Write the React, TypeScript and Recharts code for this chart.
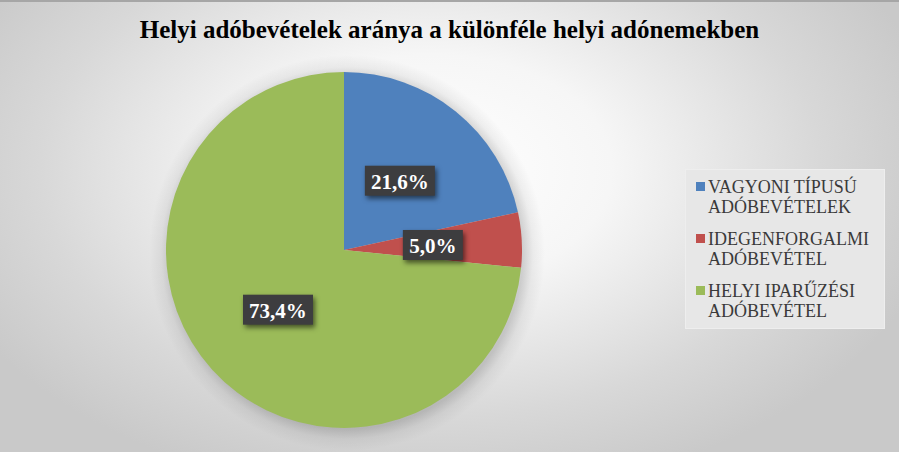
import React from 'react';
import { PieChart, Pie, Cell, Legend } from 'recharts';

// Share of local tax revenues (percent)
const categories = [
  'VAGYONI TÍPUSÚ ADÓBEVÉTELEK',
  'IDEGENFORGALMI ADÓBEVÉTEL',
  'HELYI IPARŰZÉSI ADÓBEVÉTEL',
];
const shares = [21.6, 5.0, 73.4];
const colors = ['#4f81bd', '#c0504d', '#9bbb59'];

const pieData = categories.map((name, i) => ({ name, value: shares[i] }));

const SERIF = "'Liberation Serif', 'Times New Roman', serif";
const RADIAN = Math.PI / 180;

const renderLabel = ({ cx, cy, midAngle, outerRadius, value }: any) => {
  const r = outerRadius * 0.5;
  const x = cx + r * Math.cos(-midAngle * RADIAN);
  const y = cy + r * Math.sin(-midAngle * RADIAN);
  const text = Number(value).toFixed(1).replace('.', ',') + '%';
  const w = text.length * 10 + 20;
  const h = 30;
  return (
    <g>
      <rect
        x={x - w / 2}
        y={y - h / 2}
        width={w}
        height={h}
        fill="#3d3d3f"
        style={{ filter: 'drop-shadow(2px 3px 2.5px rgba(0,0,0,0.55))' }}
      />
      <text
        x={x}
        y={y + 1}
        textAnchor="middle"
        dominantBaseline="central"
        fill="#ffffff"
        style={{ fontFamily: SERIF, fontWeight: 'bold', fontSize: 21 }}
      >
        {text}
      </text>
    </g>
  );
};

const LegendBox = ({ payload }: any) => {
  const items = [...(payload || [])].sort(
    (a: any, b: any) => categories.indexOf(a.value) - categories.indexOf(b.value)
  );
  return (
    <div
      style={{
        width: 200,
        height: 160,
        boxSizing: 'border-box',
        background: '#e7e7e7',
        border: '1px solid #eeeeee',
        padding: '7px 0 0 10px',
        fontFamily: SERIF,
        fontSize: 18,
        lineHeight: '20px',
        color: '#3a3a3a',
      }}
    >
      {items.map((entry: any, i: number) => (
        <div key={i} style={{ display: 'flex', alignItems: 'flex-start', marginBottom: 12 }}>
          <span
            style={{
              display: 'inline-block',
              width: 9,
              height: 9,
              marginTop: 5,
              marginRight: 3,
              flex: '0 0 auto',
              background: entry.color,
            }}
          />
          <span style={{ width: 180 }}>{entry.value}</span>
        </div>
      ))}
    </div>
  );
};

export default function App() {
  return (
    <div
      style={{
        position: 'absolute',
        left: 0,
        top: 0,
        width: 899,
        height: 452,
        overflow: 'hidden',
        boxShadow: 'inset 0 2px 0 #a6a6a6',
        background:
          'radial-gradient(circle at 347px 253px, rgba(0,0,0,0.16) 176px, rgba(0,0,0,0.05) 186px, rgba(0,0,0,0) 198px),' +
          'radial-gradient(ellipse 520px 330px at 430px 170px, #ffffff 0%, #f6f6f6 35%, #d8d8d8 75%, #c9c9c9 100%)',
      }}
    >
      <div
        style={{
          position: 'absolute',
          left: 0,
          top: 16,
          width: 899,
          textAlign: 'center',
          fontFamily: SERIF,
          fontWeight: 'bold',
          fontSize: 25,
          color: '#000000',
        }}
      >
        Helyi adóbevételek aránya a különféle helyi adónemekben
      </div>
      <PieChart
        width={899}
        height={452}
        margin={{ top: 0, right: 0, bottom: 0, left: 0 }}
        style={{ position: 'absolute', left: 0, top: 0 }}
      >
        <Pie
          data={pieData}
          dataKey="value"
          nameKey="name"
          cx={344}
          cy={250}
          outerRadius={178}
          startAngle={90}
          endAngle={-270}
          stroke="none"
          label={renderLabel}
          labelLine={false}
          isAnimationActive={false}
        >
          {pieData.map((_, i) => (
            <Cell key={`cell-${i}`} fill={colors[i]} />
          ))}
        </Pie>
        <Legend
          layout="vertical"
          align="right"
          verticalAlign="middle"
          content={<LegendBox />}
          wrapperStyle={{ left: 685, top: 169, width: 200, height: 160 }}
        />
      </PieChart>
    </div>
  );
}
